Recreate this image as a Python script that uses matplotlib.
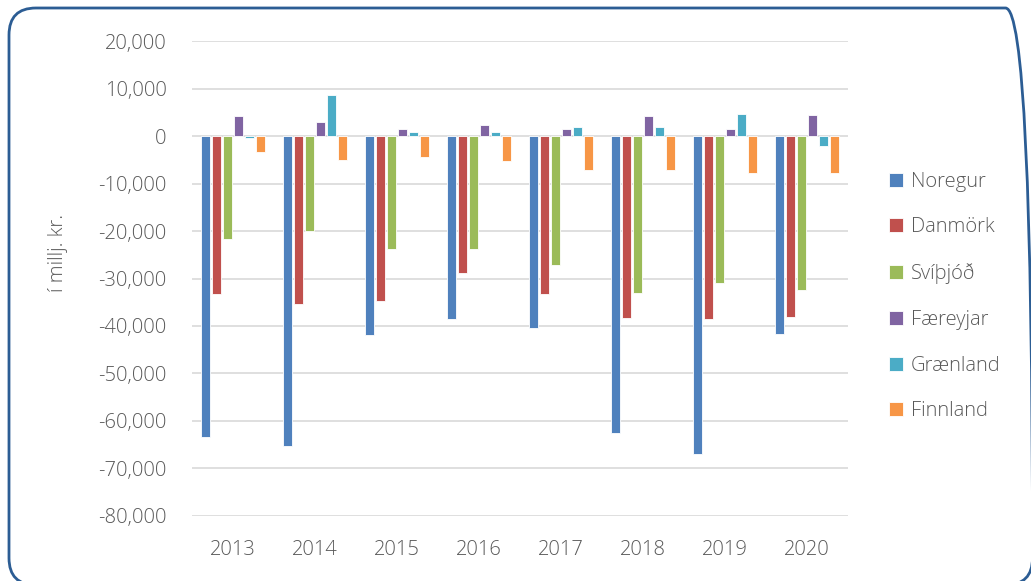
import numpy as np
import matplotlib
matplotlib.use("Agg")
import matplotlib.pyplot as plt
from matplotlib.patches import FancyBboxPatch
from matplotlib.ticker import FuncFormatter

plt.rcParams['font.family'] = ['Open Sans', 'DejaVu Sans']
plt.rcParams['font.weight'] = 'light'

# ár og lönd
years = ['2013', '2014', '2015', '2016', '2017', '2018', '2019', '2020']
countries = ['Noregur', 'Danmörk', 'Svíþjóð', 'Færeyjar', 'Grænland', 'Finnland']
colors = ['#4F81BD', '#C0504D', '#9BBB59', '#8064A2', '#4BACC6', '#F79646']

# gildi í millj. kr. (lesið af mynd)
noregur = [-63350, -65200, -41900, -38600, -40400, -62450, -66900, -41650]
danmork = [-33350, -35400, -34800, -28800, -33350, -38400, -38600, -38050]
svithjod = [-21700, -19950, -23800, -23800, -27100, -33000, -30900, -32400]
faereyjar = [4150, 2950, 1550, 2400, 1550, 4150, 1550, 4450]
graenland = [-500, 8600, 850, 850, 1850, 1850, 4700, -2000]
finnland = [-3300, -5050, -4400, -5350, -7100, -7100, -7700, -7700]

series = [noregur, danmork, svithjod, faereyjar, graenland, finnland]

fig = plt.figure(figsize=(10.31, 5.81), dpi=100)
ax = fig.add_axes([0.186, 0.1119, 0.6365, 0.8175])

# rammi (í tommum)
frame = FancyBboxPatch((0.09, -0.04), 10.235, 5.77,
                       boxstyle="round,pad=0,rounding_size=0.27",
                       transform=fig.dpi_scale_trans, facecolor='none',
                       edgecolor='#2C5D94', linewidth=2.0, clip_on=False)
fig.patches.append(frame)

x = np.arange(len(years))
pitch = 0.134
width = 0.112
for i, (name, vals) in enumerate(zip(countries, series)):
    ax.bar(x + (i - 2.5) * pitch, vals, width, color=colors[i], label=name,
           edgecolor='white', linewidth=0.6, zorder=3)

ax.set_ylim(-80000, 20000)
ax.set_xlim(-0.5, len(years) - 0.5)
ax.set_yticks(range(-80000, 20001, 10000))
ax.yaxis.set_major_formatter(FuncFormatter(lambda v, p: f"{int(v):,}"))
ax.set_xticks(x)
ax.set_xticklabels(years)
ax.grid(axis='y', color='#D9D9D9', linewidth=1.2, zorder=0)
ax.set_axisbelow(True)
for s in ax.spines.values():
    s.set_visible(False)
ax.tick_params(length=0, labelsize=14.5, colors='#595959')
ax.tick_params(axis='y', pad=18)
ax.tick_params(axis='x', pad=17)

fig.text(0.056, 0.565, 'í millj. kr.', rotation=90, ha='center', va='center',
         fontsize=14.5, color='#595959')

leg = ax.legend(loc='center left', bbox_to_anchor=(1.035, 0.462), frameon=False,
                fontsize=14.5, labelcolor='#595959', handlelength=0.7,
                handleheight=0.7, handletextpad=0.4, labelspacing=1.28)

fig.savefig('out.png', dpi=100)
